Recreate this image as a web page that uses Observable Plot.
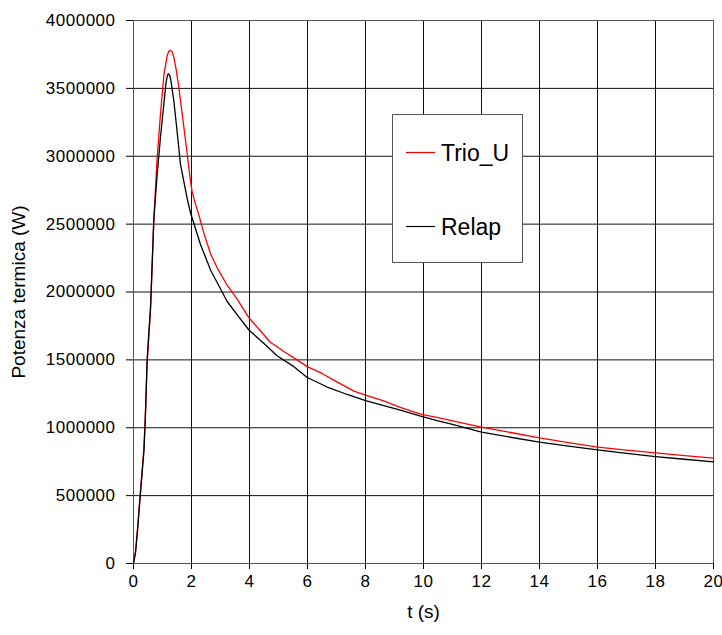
<!DOCTYPE html>
<html><head><meta charset="utf-8">
<script src="https://cdn.jsdelivr.net/npm/d3@7"></script>
<script src="https://cdn.jsdelivr.net/npm/@observablehq/plot@0.6"></script>
<style>
body{margin:0;background:#fff;}
#wrap{position:relative;width:722px;height:635px;}
</style></head><body>
<div id="wrap"></div>
<script>
const xTicks = [0, 2, 4, 6, 8, 10, 12, 14, 16, 18, 20];
const yTicks = [0, 500000, 1000000, 1500000, 2000000, 2500000, 3000000, 3500000, 4000000];
const seriesNames = ["Trio_U", "Relap"];
const seriesColors = ["#ff0000", "#000000"];

const trioT = [0, 0.07, 0.13, 0.24, 0.36, 0.41, 0.47, 0.59, 0.7, 0.81, 0.93, 1.05, 1.16, 1.22, 1.28, 1.33, 1.39, 1.47, 1.56, 1.68, 1.85, 1.95, 2.02, 2.12, 2.25, 2.43, 2.66, 2.88, 3.23, 3.57, 3.98, 4.35, 4.72, 5.2, 5.64, 5.99, 6.5, 7.0, 7.6, 8.0, 8.6, 9.2, 9.9, 10.5, 11, 12, 13, 14, 15, 16, 17, 18, 19, 20];
const trioP = [0, 90000, 230000, 530000, 850000, 1100000, 1480000, 1880000, 2530000, 2970000, 3310000, 3600000, 3740000, 3775000, 3780000, 3770000, 3730000, 3640000, 3510000, 3310000, 3020000, 2840000, 2740000, 2660000, 2570000, 2430000, 2280000, 2180000, 2050000, 1950000, 1810000, 1720000, 1630000, 1560000, 1500000, 1450000, 1400000, 1340000, 1270000, 1240000, 1200000, 1150000, 1100000, 1075000, 1050000, 1004000, 965000, 926000, 890000, 857000, 835000, 815000, 795000, 776000];

const relapT = [0, 0.07, 0.13, 0.24, 0.36, 0.41, 0.47, 0.59, 0.7, 0.81, 0.93, 1.05, 1.12, 1.17, 1.2, 1.24, 1.28, 1.39, 1.5, 1.62, 1.73, 1.85, 1.97, 2.31, 2.66, 3.23, 3.69, 3.98, 4.5, 4.95, 5.53, 5.99, 6.68, 7.37, 8.0, 8.6, 9.2, 9.9, 10.5, 11, 12, 13, 14, 15, 16, 17, 18, 19, 20];
const relapP = [0, 80000, 220000, 520000, 830000, 1080000, 1500000, 1900000, 2530000, 2850000, 3140000, 3390000, 3540000, 3595000, 3607000, 3600000, 3570000, 3410000, 3190000, 2940000, 2820000, 2690000, 2580000, 2350000, 2160000, 1930000, 1800000, 1720000, 1620000, 1530000, 1450000, 1370000, 1300000, 1245000, 1200000, 1165000, 1130000, 1085000, 1050000, 1025000, 967000, 930000, 894000, 865000, 837000, 812000, 788000, 768000, 749000];

const rows = [
  ...trioT.map((t, i) => ({t, p: trioP[i], s: seriesNames[0]})),
  ...relapT.map((t, i) => ({t, p: relapP[i], s: seriesNames[1]}))
];

const chart = Plot.plot({
  width: 722, height: 635,
  marginLeft: 133, marginRight: 9, marginTop: 20, marginBottom: 72,
  style: {fontFamily: "'Liberation Sans', Arial, sans-serif", fontSize: "17px", color: "#000", background: "#fff"},
  x: {domain: [0, 20]},
  y: {domain: [0, 4000000]},
  marks: [
    Plot.gridX(xTicks, {stroke: "#111", strokeOpacity: 1}),
    Plot.gridY(yTicks, {stroke: "#111", strokeOpacity: 1}),
    Plot.frame({stroke: "#555"}),
    Plot.axisX(xTicks, {tickSize: 6, tickPadding: 5, fontSize: 17, label: "t (s)", labelAnchor: "center", labelArrow: "none", labelOffset: 54}),
    Plot.axisY(yTicks, {tickSize: 7, tickPadding: 11, fontSize: 17, tickFormat: d3.format("d"), label: "Potenza termica (W)", labelAnchor: "center", labelArrow: "none", labelOffset: 122}),
    Plot.line(rows, {x: "t", y: "p", z: "s", stroke: d => seriesColors[seriesNames.indexOf(d.s)], strokeWidth: 1.3})
  ]
});
document.getElementById("wrap").appendChild(chart);
chart.querySelectorAll('[aria-label="x-axis tick label"], [aria-label="y-axis tick label"]').forEach(g => g.setAttribute("letter-spacing", "0.5"));
chart.querySelectorAll('[aria-label="x-axis label"], [aria-label="y-axis label"]').forEach(g => {
  g.setAttribute("font-size", "19");
  g.querySelectorAll("text").forEach(t => t.setAttribute("font-size", "19"));
});

// legend
const ns = "http://www.w3.org/2000/svg";
const leg = document.createElementNS(ns, "svg");
leg.setAttribute("width", 132); leg.setAttribute("height", 150);
leg.style.position = "absolute"; leg.style.left = "392px"; leg.style.top = "114px";
leg.innerHTML = `<rect x="0.5" y="0.5" width="130" height="148" fill="#fff" stroke="#555"/>`;
const legY = [38.5, 112.5];
seriesNames.forEach((name, i) => {
  leg.innerHTML += `<line x1="14" x2="43" y1="${legY[i]}" y2="${legY[i]}" stroke="${seriesColors[i]}" stroke-width="1.2"/>` +
    `<text x="49" y="${legY[i] + 8.5}" font-family="'Liberation Sans', Arial, sans-serif" font-size="23" fill="#000">${name}</text>`;
});
document.getElementById("wrap").appendChild(leg);
</script>
</body></html>
